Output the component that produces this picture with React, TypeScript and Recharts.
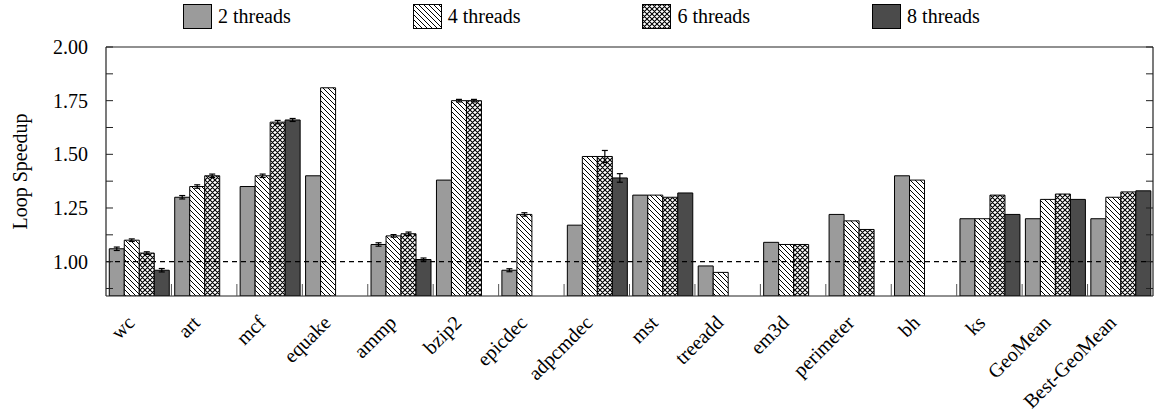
import React from "react";
import { BarChart, Bar, XAxis, YAxis, ErrorBar, ReferenceLine, Legend } from "recharts";

// ── Data ─────────────────────────────────────────────────────────────────────

const CATEGORIES = [
  "wc", "art", "mcf", "equake", "ammp", "bzip2", "epicdec", "adpcmdec",
  "mst", "treeadd", "em3d", "perimeter", "bh", "ks", "GeoMean", "Best-GeoMean",
];

const T2 = [1.06, 1.30, 1.35, 1.40, 1.08, 1.38, 0.96, 1.17, 1.31, 0.98, 1.09, 1.22, 1.40, 1.20, 1.20, 1.20];
const T4 = [1.10, 1.35, 1.40, 1.81, 1.12, 1.75, 1.22, 1.49, 1.31, 0.95, 1.08, 1.19, 1.38, 1.20, 1.29, 1.30];
const T6 = [1.04, 1.40, 1.65, null, 1.13, 1.75, null, 1.49, 1.30, null, 1.08, 1.15, null, 1.31, 1.315, 1.325];
const T8 = [0.96, null, 1.66, null, 1.01, null, null, 1.39, 1.32, null, null, null, null, 1.22, 1.29, 1.33];

// error bar half-widths (null = no error bar drawn)
const E2 = [0.008, 0.008, null, null, 0.008, null, 0.007, null, null, null, null, null, null, null, null, null];
const E4 = [0.006, 0.008, 0.008, null, 0.006, 0.006, 0.008, null, null, null, null, null, null, null, null, null];
const E6 = [0.006, 0.008, 0.008, null, 0.008, 0.006, null, 0.028, null, null, null, null, null, null, null, null];
const E8 = [0.008, null, 0.007, null, 0.007, null, null, 0.02, null, null, null, null, null, null, null, null];

const Y_TICKS = [0.875, 1.0, 1.125, 1.25, 1.375, 1.5, 1.625, 1.75, 1.875, 2.0];
const Y_DOMAIN: [number, number] = [0.84, 2.0];

const SERIES = [
  { key: "t2", err: "e2", name: "2 threads", fill: "#9b9b9b" },
  { key: "t4", err: "e4", name: "4 threads", fill: "url(#hatchDiag)" },
  { key: "t6", err: "e6", name: "6 threads", fill: "url(#hatchCross)" },
  { key: "t8", err: "e8", name: "8 threads", fill: "#4b4b4b" },
];

const data = CATEGORIES.map((name, i) => ({
  name,
  t2: T2[i], t4: T4[i], t6: T6[i], t8: T8[i],
  e2: E2[i], e4: E4[i], e6: E6[i], e8: E8[i],
}));

// ── Layout ───────────────────────────────────────────────────────────────────

const W = 1158;
const H = 419;
const FONT = "Liberation Serif, Times New Roman, Times, serif";
const MARGIN = { top: 17, right: 4, bottom: 0, left: 0 };
const LEFT_AXIS_W = 106;
const RIGHT_AXIS_W = 1;
const X_AXIS_H = 123;
const PLOT_W = W - MARGIN.left - MARGIN.right - LEFT_AXIS_W - RIGHT_AXIS_W;
const STEP = PLOT_W / CATEGORIES.length;
const FRAME = "#222";

function Patterns() {
  return (
    <svg width={0} height={0} style={{ position: "absolute" }}>
      <defs>
        <pattern id="hatchDiag" patternUnits="userSpaceOnUse" width={5} height={5}>
          <rect width={5} height={5} fill="#fff" />
          <path d="M0,0 L5,5 M-1,4 L1,6 M4,-1 L6,1" stroke="#000" strokeWidth={1} />
        </pattern>
        <pattern id="hatchCross" patternUnits="userSpaceOnUse" width={5} height={5}>
          <rect width={5} height={5} fill="#fff" />
          <path d="M0,0 L5,5 M-1,4 L1,6 M4,-1 L6,1 M5,0 L0,5 M-1,1 L1,-1 M4,6 L6,4" stroke="#000" strokeWidth={1.1} />
        </pattern>
      </defs>
    </svg>
  );
}

function LegendBox() {
  return (
    <div style={{ height: 30, width: W, position: "relative", fontFamily: FONT, fontSize: 20 }}>
      {SERIES.map((s, i) => (
        <div key={s.key} style={{ position: "absolute", left: 183 + i * 229.7, top: 4, display: "flex", alignItems: "center", height: 25 }}>
          <svg width={29} height={25} style={{ display: "block" }}>
            <rect x={0.5} y={0.5} width={28} height={24} fill={s.fill} stroke="#000" strokeWidth={1} />
          </svg>
          <span style={{ marginLeft: 6, lineHeight: "25px", color: "#000" }}>{s.name}</span>
        </div>
      ))}
    </div>
  );
}

const textStyle = { fontFamily: FONT, fontSize: 20 };

function LeftTick(props: any) {
  const { x, y, payload } = props;
  const v = payload.value as number;
  const labelled = Math.abs(v * 4 - Math.round(v * 4)) < 1e-6;
  return (
    <g>
      <line x1={x} x2={x + 7} y1={y} y2={y} stroke={FRAME} strokeWidth={1} />
      {labelled && (
        <text x={x - 18} y={y} dy="0.35em" textAnchor="end" style={textStyle} fill="#000">
          {v.toFixed(2)}
        </text>
      )}
    </g>
  );
}

function RightTick(props: any) {
  const { x, y } = props;
  return <line x1={x - 7} x2={x} y1={y} y2={y} stroke={FRAME} strokeWidth={1} />;
}

const LABEL_DX = -3;
const LABEL_DY = 28;

function XTick(props: any) {
  const { x, y, payload, index } = props;
  const left = x - STEP / 2;
  return (
    <g>
      {index > 0 && <line x1={left} x2={left} y1={y - 12} y2={y} stroke="#555" strokeWidth={1} />}
      <g transform={`translate(${x + LABEL_DX},${y + LABEL_DY}) rotate(-45)`}>
        <text x={0} y={0} textAnchor="end" style={textStyle} fill="#000">
          {payload.value}
        </text>
      </g>
    </g>
  );
}

function YLabel(props: any) {
  const vb = props.viewBox || { x: 0, y: 0, width: 0, height: 0 };
  const cx = vb.x + 20;
  const cy = vb.y + vb.height / 2;
  return (
    <g transform={`translate(${cx},${cy}) rotate(-90)`}>
      <text x={0} y={0} textAnchor="middle" dominantBaseline="central" style={textStyle} fill="#000">
        Loop Speedup
      </text>
    </g>
  );
}

export default function App() {
  return (
    <div style={{ position: "absolute", left: 0, top: 0, background: "#fff" }}>
      <Patterns />
      <BarChart width={W} height={H} data={data} margin={MARGIN} barCategoryGap="5%" barGap={0}>
        <Legend verticalAlign="top" align="left" content={<LegendBox />} wrapperStyle={{ top: 0, left: 0 }} />
        <XAxis
          dataKey="name"
          interval={0}
          height={X_AXIS_H}
          tickSize={0}
          tickMargin={0}
          tick={<XTick />}
          tickLine={false}
          axisLine={{ stroke: FRAME, strokeWidth: 1.2 }}
        />
        <YAxis
          domain={Y_DOMAIN}
          ticks={Y_TICKS}
          width={LEFT_AXIS_W}
          tickSize={0}
          tickMargin={0}
          tickLine={false}
          tick={<LeftTick />}
          axisLine={{ stroke: FRAME, strokeWidth: 1.2 }}
          allowDataOverflow
          label={<YLabel />}
        />
        <YAxis
          yAxisId="right"
          orientation="right"
          domain={Y_DOMAIN}
          ticks={Y_TICKS}
          width={RIGHT_AXIS_W}
          tickSize={0}
          tickMargin={0}
          tickLine={false}
          tick={<RightTick />}
          axisLine={{ stroke: FRAME, strokeWidth: 1.2 }}
          allowDataOverflow
        />
        <ReferenceLine y={2} stroke={FRAME} strokeWidth={1.2} />
        <ReferenceLine y={1} stroke="#000" strokeWidth={1.2} strokeDasharray="5 4" />
        {SERIES.map((s) => (
          <Bar key={s.key} dataKey={s.key} name={s.name} fill={s.fill} stroke="#000" strokeWidth={1} isAnimationActive={false}>
            <ErrorBar dataKey={s.err} width={3} stroke="#000" strokeWidth={1.2} direction="y" />
          </Bar>
        ))}
      </BarChart>
    </div>
  );
}
